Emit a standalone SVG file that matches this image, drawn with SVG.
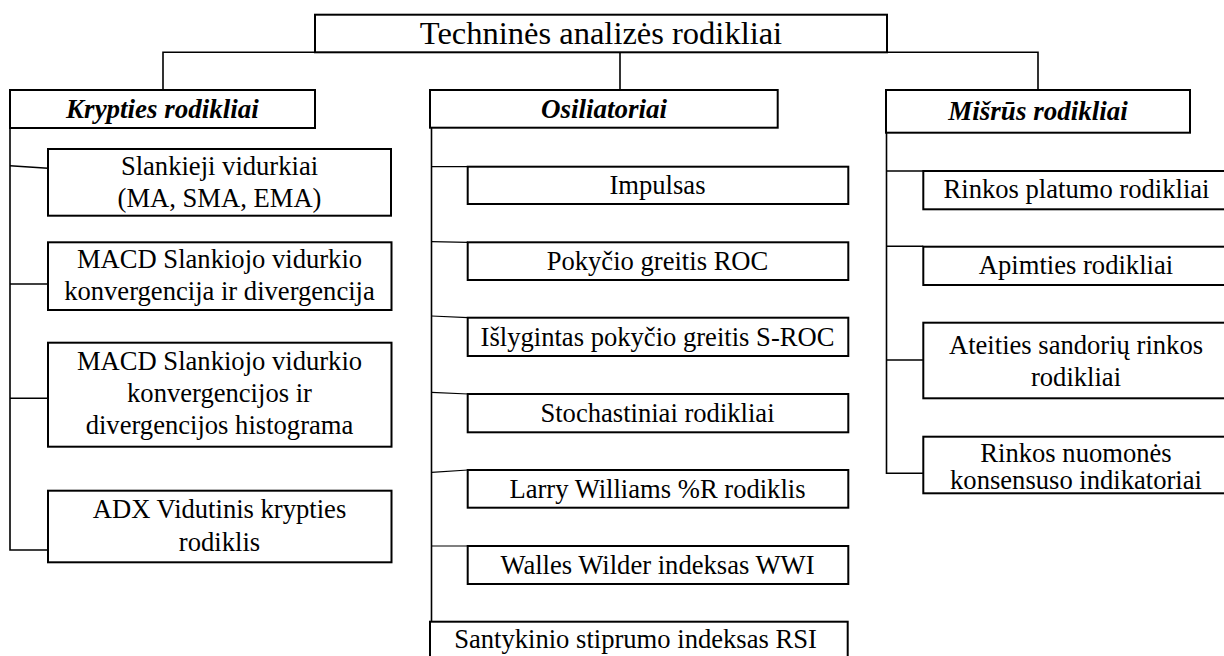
<svg xmlns="http://www.w3.org/2000/svg" width="1224" height="656" viewBox="0 0 1224 656">
<style>
.box{fill:#fff;stroke:#000;stroke-width:2}
.ln{fill:none;stroke:#000;stroke-width:1.6}
.thin{fill:none;stroke:#000;stroke-width:1.2}
text{font-family:"Liberation Serif","Times New Roman",Tinos,"DejaVu Serif",serif;fill:#000;text-anchor:middle}
.t{font-size:26.6px}
.h{font-size:27px;font-weight:bold;font-style:italic}
.ti{font-size:32.5px}
</style>
<rect width="1224" height="656" fill="#fff"/>
<g id="connectors">
<polyline class="ln" points="163,90 163,52.3 1038,52.3 1038,90"/>
<line class="ln" x1="620" y1="52.3" x2="620" y2="90"/>
<polyline class="ln" points="10,128 10,550 48,550"/>
<line class="ln" x1="10" y1="165.7" x2="48" y2="168.3"/>
<line class="ln" x1="10" y1="284" x2="48" y2="284"/>
<line class="ln" x1="10" y1="398.3" x2="48" y2="398.3"/>
<line class="ln" x1="431.5" y1="128" x2="431.5" y2="621.7"/>
<line class="thin" x1="431.5" y1="166.7" x2="468" y2="166.7"/>
<line class="thin" x1="431.5" y1="241.7" x2="468" y2="242.3"/>
<line class="thin" x1="431.5" y1="316" x2="468" y2="317.7"/>
<line class="thin" x1="431.5" y1="392.3" x2="468" y2="394"/>
<line class="thin" x1="431.5" y1="472.3" x2="468" y2="470"/>
<line class="thin" x1="431.5" y1="546" x2="468" y2="546"/>
<polyline class="ln" points="886.5,132.7 886.5,473.3 923.3,473.3"/>
<line class="ln" x1="886.5" y1="171" x2="923.3" y2="171"/>
<line class="ln" x1="886.5" y1="246.3" x2="923.3" y2="246.3"/>
<line class="ln" x1="886.5" y1="360" x2="923.3" y2="360"/>
</g>
<g id="root"><rect class="box" x="315" y="14.7" width="572" height="37.6"/><text class="ti" x="601" y="44.3">Techninės analizės rodikliai</text></g>
<g id="krypties"><rect class="box" x="10" y="90" width="305" height="38"/><text class="h" x="162.5" y="118.3">Krypties rodikliai</text></g>
<g id="osiliatoriai"><rect class="box" x="430" y="90" width="347.7" height="37.7"/><text class="h" x="604" y="117.5">Osiliatoriai</text></g>
<g id="misrus"><rect class="box" x="886" y="90" width="304" height="42.7"/><text class="h" x="1038" y="120">Mišrūs rodikliai</text></g>
<g id="k1"><rect class="box" x="48" y="149" width="343" height="66.7"/><text class="t" x="219.5" y="175">Slankieji vidurkiai</text><text class="t" x="219.5" y="206.7">(MA, SMA, EMA)</text></g>
<g id="k2"><rect class="box" x="48" y="242.3" width="343.5" height="67.7"/><text class="t" x="219.5" y="268.3">MACD Slankiojo vidurkio</text><text class="t" x="219.5" y="300">konvergencija ir divergencija</text></g>
<g id="k3"><rect class="box" x="48" y="342.7" width="343.5" height="104"/><text class="t" x="219.5" y="370">MACD Slankiojo vidurkio</text><text class="t" x="219.5" y="401.7">konvergencijos ir</text><text class="t" x="219.5" y="434">divergencijos histograma</text></g>
<g id="k4"><rect class="box" x="48" y="490.7" width="343.5" height="71.6"/><text class="t" x="219.5" y="518.3">ADX Vidutinis krypties</text><text class="t" x="219.5" y="550.5">rodiklis</text></g>
<g id="o1"><rect class="box" x="467.7" y="166.7" width="380.6" height="37.3"/><text class="t" x="657.5" y="194">Impulsas</text></g>
<g id="o2"><rect class="box" x="467.7" y="242.3" width="380.6" height="37.7"/><text class="t" x="657.5" y="270">Pokyčio greitis ROC</text></g>
<g id="o3"><rect class="box" x="467.7" y="317.7" width="380.6" height="38.3"/><text class="t" x="657.5" y="345.8">Išlygintas pokyčio greitis S-ROC</text></g>
<g id="o4"><rect class="box" x="467.7" y="394" width="380.6" height="38.3"/><text class="t" x="657.5" y="422">Stochastiniai rodikliai</text></g>
<g id="o5"><rect class="box" x="467.7" y="470" width="380.6" height="37.7"/><text class="t" x="657.5" y="498.3">Larry Williams %R rodiklis</text></g>
<g id="o6"><rect class="box" x="467.7" y="546" width="380.6" height="38"/><text class="t" x="657.5" y="574">Walles Wilder indeksas WWI</text></g>
<g id="o7"><rect class="box" x="430" y="621.7" width="417.7" height="40"/><text class="t" x="635.5" y="648.3">Santykinio stiprumo indeksas RSI</text></g>
<g id="m1"><rect class="box" x="923.3" y="171" width="310" height="38.3"/><text class="t" x="1076.5" y="198">Rinkos platumo rodikliai</text></g>
<g id="m2"><rect class="box" x="923.3" y="246.7" width="310" height="38.3"/><text class="t" x="1076" y="274.3">Apimties rodikliai</text></g>
<g id="m3"><rect class="box" x="923.3" y="322.7" width="310" height="75.6"/><text class="t" x="1076" y="353.5">Ateities sandorių rinkos</text><text class="t" x="1076" y="385.5">rodikliai</text></g>
<g id="m4"><rect class="box" x="923.3" y="436.7" width="310" height="56.6"/><text class="t" x="1076" y="462">Rinkos nuomonės</text><text class="t" x="1076" y="489">konsensuso indikatoriai</text></g>
</svg>
